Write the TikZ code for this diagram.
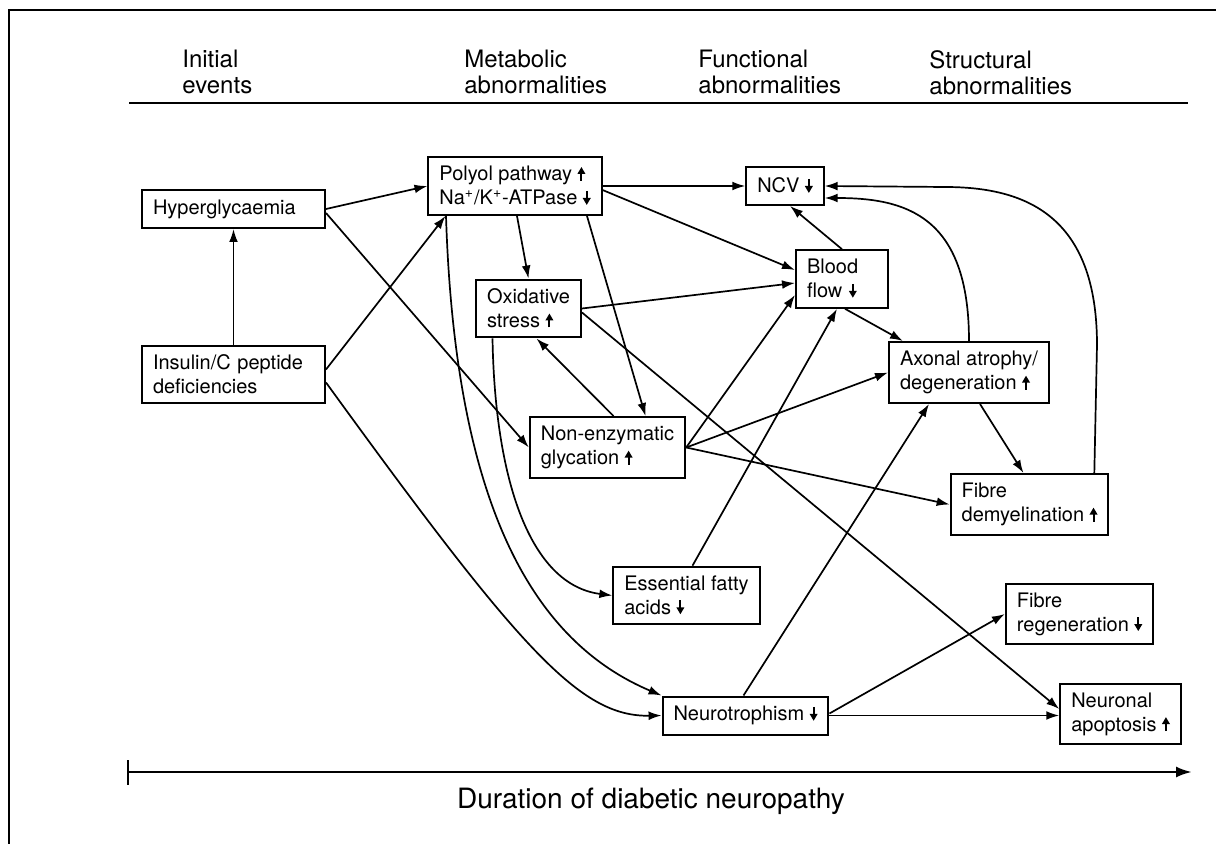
\documentclass[tikz,border=0pt]{standalone}
\usepackage{fontspec}
\setmainfont{TeX Gyre Heros}
\usepackage{tikz}
\usetikzlibrary{arrows.meta,calc}

\newcommand{\incr}{\tikz[baseline=0pt]\draw[line width=1pt,-{Triangle[length=3.5pt,width=3.8pt]}] (0,0) -- (0,7pt);}
\newcommand{\decr}{\tikz[baseline=0pt]\draw[line width=1pt,-{Triangle[length=3.5pt,width=3.8pt]}] (0,7pt) -- (0,0);}

\begin{document}
\begin{tikzpicture}[x=0.5pt,y=-0.5pt,
  box/.style={draw,line width=1pt,align=left,inner xsep=5.5pt,inner ysep=4.5pt,minimum height=19pt,font=\fontsize{10}{12}\selectfont},
  head/.style={anchor=north west,inner sep=0pt,align=left,font=\fontsize{12}{13}\selectfont},
  arr/.style={line width=0.85pt,-{Latex[length=6.5pt,width=4.4pt]}}]
\useasboundingbox (0,0) rectangle (1216,844);
\draw[line width=1.2pt] (9,844) -- (9,10) -- (1216,10);

\node (hinit) at (182,50) [head] {Initial\\events};
\node (hmeta) at (464,50) [head] {Metabolic\\abnormalities};
\node (hfunc) at (698,50) [head] {Functional\\abnormalities};
\node (hstruc) at (929,50) [head] {Structural\\abnormalities};
\coordinate (rulel) at (129,103);
\coordinate (ruler) at (1188,103);
\draw[line width=1.3pt] (rulel) -- (ruler);

\node (hyper) at (233.5,209) [box,text width=80.5pt] {Hyperglycaemia};
\node (insulin) at (233.5,374.5) [box,text width=80.5pt] {Insulin/C peptide\\deficiencies};
\node (polyol) at (515,186) [box] {Polyol pathway \incr\\Na\textsuperscript{+}/K\textsuperscript{+}-ATPase \decr};
\node (ncv) at (785,186) [box] {NCV \decr};
\node (blood) at (842,279) [box,text width=35pt] {Blood\\flow \decr};
\node (oxid) at (528.5,308.5) [box] {Oxidative\\stress \incr};
\node (axonal) at (969,372.5) [box] {Axonal atrophy/\\degeneration \incr};
\node (glyc) at (607.5,447.5) [box] {Non-enzymatic\\glycation \incr};
\node (demyel) at (1029.5,504.5) [box] {Fibre\\demyelination \incr};
\node (efa) at (686.5,595.5) [box] {Essential fatty\\acids \decr};
\node (regen) at (1079.5,614) [box] {Fibre\\regeneration \decr};
\node (neuro) at (745.5,715.5) [box] {Neurotrophism \decr};
\node (apopt) at (1120.5,714) [box] {Neuronal\\apoptosis \incr};

\draw[arr] (insulin) -- (hyper);
\draw[arr] (hyper.east) -- (polyol.west);
\draw[arr] ([yshift=-2pt]hyper.east) -- (glyc.west);
\draw[arr] ([yshift=2.5pt]insulin.east) -- ([xshift=9pt]polyol.south west);
\draw[arr] ([yshift=-4pt]insulin.east) .. controls (520,650) and (580,717) .. (neuro.west);
\draw[arr] (polyol.east) -- (ncv.west);
\draw[arr] ([yshift=-2pt]polyol.east) -- ([yshift=4.5pt]blood.west);
\draw[arr] ([xshift=1pt]polyol.south) -- (oxid.north);
\draw[arr] ([xshift=36pt]polyol.south) -- ([xshift=19pt]glyc.north);
\draw[arr] ([xshift=-34.5pt]polyol.south) .. controls (455,500) and (530,640) .. (neuro.north west);
\draw[arr] (oxid.east) -- ([yshift=-2pt]blood.west);
\draw[arr] ([yshift=-2pt]oxid.east) -- ([yshift=2.5pt]apopt.west);
\draw[arr] ([xshift=-18pt]oxid.south) .. controls (495,480) and (530,585) .. (efa.west);
\draw[arr] ([xshift=3pt]glyc.north) -- ([xshift=4pt]oxid.south);
\draw[arr] (glyc.east) -- ([yshift=-8pt]blood.west);
\draw[arr] (glyc.east) -- (axonal.west);
\draw[arr] (glyc.east) -- (demyel.west);
\draw[arr] ([xshift=3pt]efa.north) -- ([xshift=-2.5pt]blood.south);
\draw[arr] (blood.north) -- ([xshift=2.5pt]ncv.south);
\draw[arr] ([xshift=1.5pt]blood.south) -- ([xshift=-33pt]axonal.north);
\draw[arr] (axonal.north) .. controls (969,215) and (905,198) .. ([yshift=-6pt]ncv.east);
\draw[arr] ([xshift=-7.5pt]demyel.north east) -- (1097,345) .. controls (1097,215) and (1025,187) .. (945,187) -- (ncv.east);
\draw[arr] ([xshift=5.5pt]axonal.south) -- ([xshift=-3pt]demyel.north);
\draw[arr] ([xshift=-1pt]neuro.north) -- ([xshift=-20pt]axonal.south);
\draw[arr] ([yshift=1pt]neuro.east) -- (regen.west);
\draw[arr] (neuro.east) -- (neuro.east -| apopt.west);

\coordinate (tstart) at (128,772);
\coordinate (tend) at (1192,772);
\draw[line width=1.3pt,-{Latex[length=8pt,width=5.5pt]}] (tstart) -- (tend);
\draw[line width=1pt] ([yshift=6pt]tstart) -- ([yshift=-6.5pt]tstart);
\node (dur) at (651,808) [anchor=base,font=\fontsize{14}{16}\selectfont] {Duration of diabetic neuropathy};
\end{tikzpicture}
\end{document}
